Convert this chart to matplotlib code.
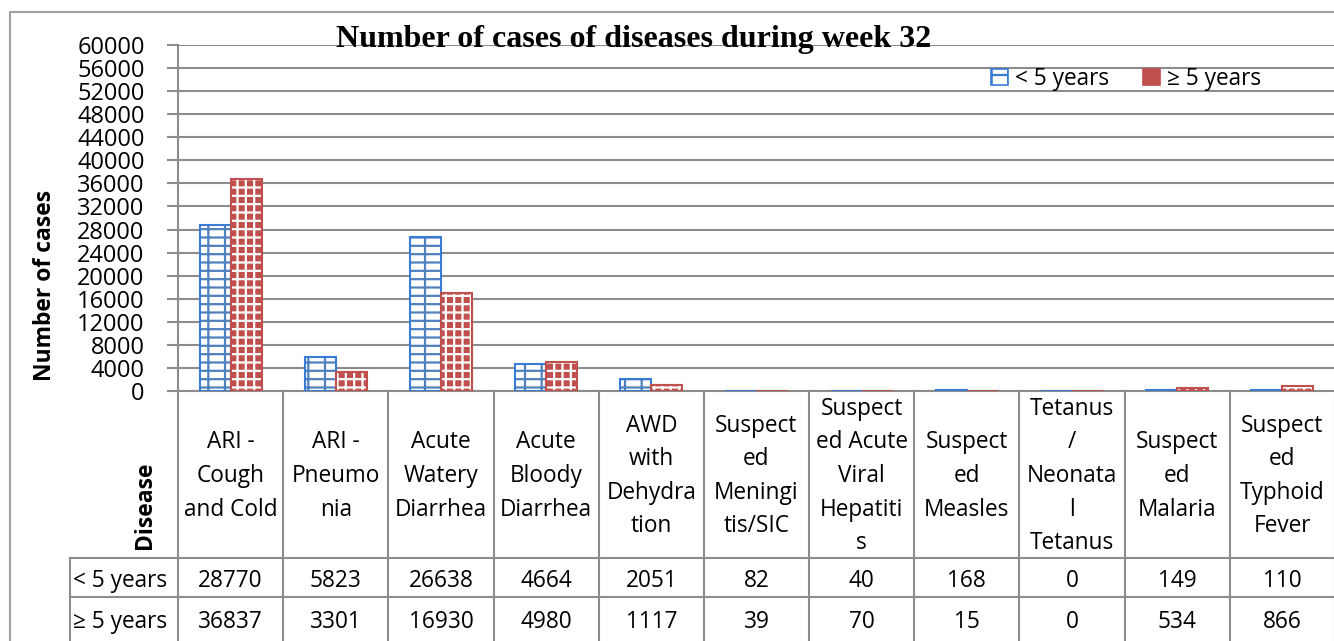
import matplotlib
matplotlib.use("Agg")
import matplotlib.pyplot as plt
import numpy as np
from matplotlib.patches import Patch

categories = ["ARI -\nCough\nand Cold", "ARI -\nPneumo\nnia", "Acute\nWatery\nDiarrhea",
              "Acute\nBloody\nDiarrhea", "AWD\nwith\nDehydra\ntion", "Suspect\ned\nMeningi\ntis/SIC",
              "Suspect\ned Acute\nViral\nHepatiti\ns", "Suspect\ned\nMeasles",
              "Tetanus\n/\nNeonata\nl\nTetanus", "Suspect\ned\nMalaria", "Suspect\ned\nTyphoid\nFever"]
under5 = [28770, 5823, 26638, 4664, 2051, 82, 40, 168, 0, 149, 110]
over5 = [36837, 3301, 16930, 4980, 1117, 39, 70, 15, 0, 534, 866]
series_names = ["< 5 years", "\u2265 5 years"]
yticks = list(range(0, 60001, 4000))
title = "Number of cases of diseases during week 32"

FONT = ["Open Sans", "DejaVu Sans"]
plt.rcParams['font.family'] = FONT
plt.rcParams['hatch.linewidth'] = 1.6

W, H = 1334, 641
fig = plt.figure(figsize=(W / 100, H / 100), dpi=100)

def fx(px):
    return px / W

def fy(py):
    return 1 - py / H

BLUE = "#4F81BD"
BLUE_E = "#3A7BD5"
RED = "#C0504D"
GRID = "#8C8C8C"
TFS = 16.3

left_px, right_px, top_px, bot_px = 178, 1335, 45, 391
ax = fig.add_axes([fx(left_px), fy(bot_px), fx(right_px - left_px), fy(top_px) - fy(bot_px)])
n = len(categories)
x = np.arange(n)
bw = 0.295

ax.bar(x - bw / 2, under5, bw, facecolor="white", edgecolor=BLUE, hatch="--|", linewidth=0, zorder=3)
ax.bar(x - bw / 2, under5, bw, facecolor="none", edgecolor=BLUE_E, linewidth=1.5, zorder=4)
ax.bar(x + bw / 2, over5, bw, facecolor=RED, edgecolor=RED, linewidth=0, zorder=3)
ax.bar(x + bw / 2, over5, bw, facecolor="none", edgecolor="white", hatch="++", linewidth=0, zorder=4)
ax.bar(x + bw / 2, over5, bw, facecolor="none", edgecolor=RED, linewidth=1.5, zorder=5)

ax.set_xlim(-0.5, n - 0.5)
ax.set_ylim(0, 60000)
ax.set_yticks(yticks)
ax.set_yticklabels([str(v) for v in yticks], fontsize=17)
ax.yaxis.grid(True, color=GRID, linewidth=1.5, zorder=0)
ax.set_axisbelow(True)
ax.set_xticks([])
for s in ["top", "right"]:
    ax.spines[s].set_visible(False)
ax.spines["left"].set_color(GRID)
ax.spines["left"].set_linewidth(1.5)
ax.spines["bottom"].set_color(GRID)
ax.spines["bottom"].set_linewidth(1.5)
ax.tick_params(axis="y", length=8, width=1.5, color=GRID, pad=16)
ax.set_ylabel("Number of cases", fontsize=16.5, fontweight="bold")
ax.yaxis.set_label_coords(-(left_px - 57) / (right_px - left_px), (bot_px - 285) / (bot_px - top_px))

# legend
h1 = Patch(facecolor="white", edgecolor=BLUE_E, hatch="-|", linewidth=1.2)
h2 = Patch(facecolor=RED, edgecolor=RED, linewidth=1.2)
leg = fig.legend([h1, h2], series_names, loc="center", bbox_to_anchor=(fx(1126), fy(79)),
                 ncol=2, frameon=False, fontsize=16.3, handlelength=0.75, handleheight=0.75,
                 handletextpad=0.3, columnspacing=1.5)

fig.text(fx(634), fy(40), title, ha="center", va="center", fontsize=23, fontweight="bold",
         family=["Liberation Serif", "DejaVu Serif"])

# table drawing in pixel coords on an overlay axes
tax = fig.add_axes([0, 0, 1, 1], facecolor="none")
tax.set_xlim(0, W)
tax.set_ylim(H, 0)
tax.axis("off")

col_edges = [left_px + i * (right_px - left_px) / n for i in range(n + 1)]
lkw = dict(color=GRID, linewidth=1.5)
for cx in col_edges:
    tax.plot([cx, cx], [bot_px, H], **lkw)
tax.plot([70, 70], [558, H], **lkw)
tax.plot([70, right_px], [558, 558], **lkw)
tax.plot([70, right_px], [597, 597], **lkw)
tax.plot([10, 10, W], [H, 12, 12], color="#A0A0A0", linewidth=1.5)

for i in range(n):
    cx = (col_edges[i] + col_edges[i + 1]) / 2
    tax.text(cx, 476, categories[i], ha="center", va="center", fontsize=TFS, linespacing=1.53)
    tax.text(cx, 581, str(under5[i]), ha="center", va="center", fontsize=TFS)
    tax.text(cx, 622, str(over5[i]), ha="center", va="center", fontsize=TFS)

tax.text(73, 581, series_names[0], ha="left", va="center", fontsize=TFS)
tax.text(73, 622, series_names[1], ha="left", va="center", fontsize=TFS)
tax.text(145, 505, "Disease", ha="center", va="center", rotation=90, fontsize=16.5, fontweight="bold")

fig.savefig("out.png", dpi=100)
